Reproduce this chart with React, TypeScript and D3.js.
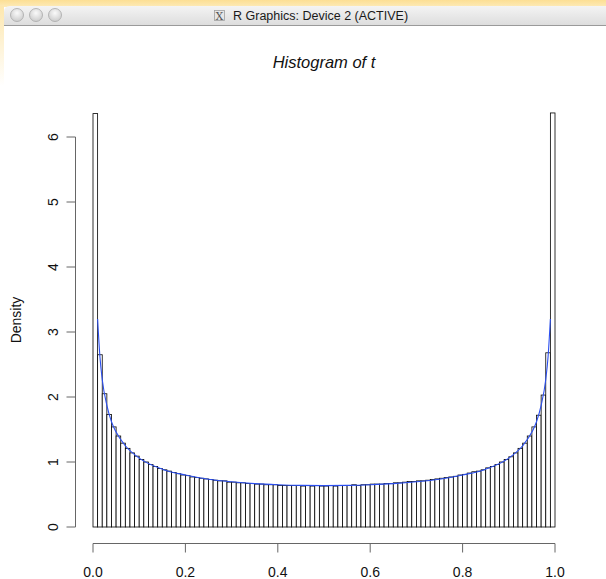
import React from 'react';
import * as d3 from 'd3';

// histogram of t: 100 bins of width 0.01 on [0, 1], density scale
const binStarts = d3.range(0, 100).map(i => i / 100);
const densities = [
    6.36, 2.65, 2.05, 1.73, 1.54, 1.40, 1.29, 1.21, 1.14, 1.09,
    1.04, 1.00, 0.96, 0.93, 0.90, 0.88, 0.86, 0.84, 0.82, 0.80,
    0.79, 0.77, 0.76, 0.75, 0.74, 0.73, 0.72, 0.71, 0.71, 0.69,
    0.69, 0.68, 0.68, 0.67, 0.67, 0.66, 0.66, 0.65, 0.65, 0.65,
    0.64, 0.64, 0.64, 0.64, 0.64, 0.63, 0.64, 0.63, 0.64, 0.63,
    0.63, 0.64, 0.63, 0.64, 0.64, 0.64, 0.65, 0.64, 0.65, 0.65,
    0.66, 0.66, 0.66, 0.67, 0.67, 0.68, 0.68, 0.69, 0.70, 0.70,
    0.71, 0.71, 0.72, 0.73, 0.74, 0.75, 0.76, 0.77, 0.78, 0.80,
    0.81, 0.83, 0.85, 0.86, 0.88, 0.91, 0.93, 0.96, 1.00, 1.04,
    1.08, 1.14, 1.21, 1.29, 1.40, 1.54, 1.72, 2.03, 2.68, 6.37
];
const binWidth = 0.01;

// blue density curve
const curveX = [0.01, 0.015, 0.02, 0.03, 0.04, 0.05, 0.07, 0.1, 0.15, 0.2, 0.25, 0.3, 0.35, 0.4, 0.45, 0.5,
    0.55, 0.6, 0.65, 0.7, 0.75, 0.8, 0.85, 0.9, 0.93, 0.95, 0.96, 0.97, 0.98, 0.985, 0.99];
const curveY = [3.20, 2.62, 2.27, 1.87, 1.62, 1.46, 1.25, 1.06, 0.89, 0.80, 0.735, 0.695, 0.667, 0.65, 0.64, 0.637,
    0.64, 0.65, 0.667, 0.695, 0.735, 0.80, 0.89, 1.06, 1.25, 1.46, 1.62, 1.87, 2.27, 2.62, 3.20];

const xTicks = [0, 0.2, 0.4, 0.6, 0.8, 1.0];
const xTickLabels = ['0.0', '0.2', '0.4', '0.6', '0.8', '1.0'];
const yTicks = [0, 1, 2, 3, 4, 5, 6];

const W = 606, H = 579;
const font = "'Liberation Sans', Arial, Helvetica, sans-serif";
const axisColor = '#666';

const App = () => {
    const x = d3.scaleLinear().domain([0, 1]).range([93, 555]);
    const y = d3.scaleLinear().domain([0, 6]).range([527, 137]);
    const axisY = 543.5, axisX = 75.5, tickLen = 9;

    const line = d3.line<number>()
        .x((d, i) => x(curveX[i]))
        .y(d => y(d))
        .curve(d3.curveMonotoneX);

    return (
        <div style={{ position: 'absolute', left: 0, top: 0, width: W, height: H }}>
            <svg width={W} height={H} style={{ display: 'block' }}>
                <defs>
                    <linearGradient id="topGlow" x1="0" y1="0" x2="0" y2="1">
                        <stop offset="0" stopColor="#fcdf94" />
                        <stop offset="1" stopColor="#fdeab8" />
                    </linearGradient>
                    <linearGradient id="leftGlow" x1="0" y1="0" x2="0" y2="1">
                        <stop offset="0" stopColor="#fde7ae" />
                        <stop offset="1" stopColor="#ffffff" />
                    </linearGradient>
                    <linearGradient id="bar" x1="0" y1="0" x2="0" y2="1">
                        <stop offset="0" stopColor="#f4f4f4" />
                        <stop offset="1" stopColor="#dcdcdc" />
                    </linearGradient>
                    <radialGradient id="btn" cx="0.5" cy="0.35" r="0.6">
                        <stop offset="0" stopColor="#fafafa" />
                        <stop offset="1" stopColor="#cfcfcf" />
                    </radialGradient>
                </defs>
                <rect x={0} y={0} width={W} height={H} fill="#ffffff" />
                <rect x={0} y={0} width={W} height={7} fill="url(#topGlow)" />
                <rect x={0} y={6} width={4} height={80} fill="url(#leftGlow)" />
                {/* window title bar */}
                <path d={`M4,26V12Q4,6 10,6H${W}V26Z`} fill="url(#bar)" />
                <line x1={4} x2={W} y1={25.5} y2={25.5} stroke="#9a9a9a" />
                {[17, 36, 55].map(cx => (
                    <circle key={cx} cx={cx} cy={15} r={6.5} fill="url(#btn)" stroke="#a8a8a8" strokeWidth={0.8} />
                ))}
                <rect x={214.5} y={10.5} width={10} height={10} fill="#e6e6e6" stroke="#a0a0a0" strokeWidth={0.8} />
                <text x={219.5} y={19.5} textAnchor="middle" fontFamily="'DejaVu Serif', serif" fontSize={11} fill="#555">X</text>
                <text x={233} y={20} fontFamily={font} fontSize={12.5} fill="#1a1a1a">R Graphics: Device 2 (ACTIVE)</text>

                {/* plot */}
                <text x={(x(0) + x(1)) / 2} y={68} textAnchor="middle" fontFamily={font} fontStyle="italic" fontSize={16.5} fill="#111">Histogram of t</text>
                <text transform={`translate(21,320) rotate(-90)`} textAnchor="middle" fontFamily={font} fontSize={14} fill="#111">Density</text>

                <g className="bars">
                    {densities.map((d, i) => (
                        <rect key={i}
                            x={x(binStarts[i])}
                            y={y(d)}
                            width={x(binStarts[i] + binWidth) - x(binStarts[i])}
                            height={y(0) - y(d)}
                            fill="#ffffff" stroke="#000" strokeWidth={0.8} />
                    ))}
                </g>
                <path d={line(curveY) || ''} fill="none" stroke="#2b4ff0" strokeWidth={1.1} />

                {/* x axis, R style: line only between outer ticks */}
                <g className="x-axis">
                    <line x1={x(xTicks[0])} x2={x(xTicks[xTicks.length - 1])} y1={axisY} y2={axisY} stroke={axisColor} />
                    {xTicks.map((t, i) => (
                        <g key={t}>
                            <line x1={x(t)} x2={x(t)} y1={axisY} y2={axisY + tickLen} stroke={axisColor} />
                            <text x={x(t)} y={axisY + 33} textAnchor="middle" fontFamily={font} fontSize={14} fill="#111">{xTickLabels[i]}</text>
                        </g>
                    ))}
                </g>
                {/* y axis */}
                <g className="y-axis">
                    <line x1={axisX} x2={axisX} y1={y(yTicks[0])} y2={y(yTicks[yTicks.length - 1])} stroke={axisColor} />
                    {yTicks.map(t => (
                        <g key={t}>
                            <line x1={axisX - tickLen} x2={axisX} y1={y(t)} y2={y(t)} stroke={axisColor} />
                            <text transform={`translate(${axisX - 18},${y(t)}) rotate(-90)`} textAnchor="middle" fontFamily={font} fontSize={14} fill="#111">{t}</text>
                        </g>
                    ))}
                </g>
            </svg>
        </div>
    );
};

export default App;
